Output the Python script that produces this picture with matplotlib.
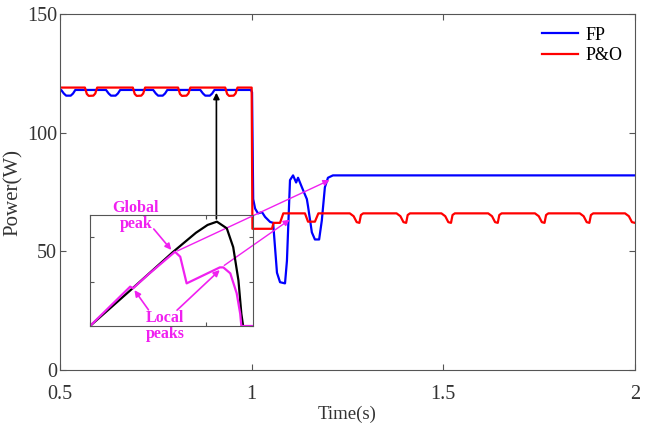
import matplotlib
matplotlib.use("Agg")
import matplotlib.pyplot as plt

plt.rcParams['font.family'] = ['Liberation Serif', 'DejaVu Serif']

# FP (blue) - vertices
t_fp = [0.500, 0.503, 0.510, 0.516, 0.528, 0.534, 0.540,
        0.620, 0.627, 0.633, 0.645, 0.651, 0.657,
        0.743, 0.750, 0.756, 0.768, 0.774, 0.780,
        0.866, 0.873, 0.879, 0.891, 0.897, 0.903,
        0.998, 1.001, 1.004, 1.009, 1.0165, 1.027, 1.035, 1.048, 1.056,
        1.066, 1.074, 1.087, 1.092, 1.100, 1.108, 1.116, 1.121, 1.131,
        1.144, 1.147, 1.157, 1.165, 1.176, 1.183, 1.191, 1.199, 1.212, 2.000]
p_fp = [118, 118, 116.5, 115.6, 115.6, 116.5, 118,
        118, 116.5, 115.6, 115.6, 116.5, 118,
        118, 116.5, 115.6, 115.6, 116.5, 118,
        118, 116.5, 115.6, 115.6, 116.5, 118,
        118, 117, 72, 68, 66, 66.5, 64.5, 62.4, 62,
        41, 37, 36.5, 46, 80, 82, 79, 81, 77,
        72, 69, 58, 55, 55, 63, 77, 81, 82, 82]

# P&O (red)
t_po = [0.500, 0.565, 0.570, 0.575, 0.587, 0.592, 0.597,
        0.690, 0.695, 0.700, 0.712, 0.717, 0.722,
        0.808, 0.813, 0.818, 0.830, 0.835, 0.840,
        0.931, 0.936, 0.941, 0.953, 0.958, 0.963,
        1.000, 1.002, 1.053, 1.057, 1.074, 1.0825, 1.139, 1.147, 1.165, 1.174,
        1.256, 1.266, 1.274, 1.281, 1.285, 1.291,
        1.378, 1.388, 1.396, 1.403, 1.407, 1.413,
        1.495, 1.505, 1.513, 1.520, 1.524, 1.530,
        1.617, 1.627, 1.635, 1.642, 1.646, 1.652,
        1.739, 1.749, 1.757, 1.764, 1.768, 1.774,
        1.856, 1.866, 1.874, 1.881, 1.885, 1.891,
        1.974, 1.984, 1.992, 2.000]
p_po = [119, 119, 116.3, 115.5, 115.6, 116.5, 119,
        119, 116.3, 115.5, 115.6, 116.5, 119,
        119, 116.3, 115.5, 115.6, 116.5, 119,
        119, 116.3, 115.5, 115.6, 116.5, 119,
        119, 59.5, 59.5, 62, 62, 66, 66, 62.5, 62.5, 66,
        66, 64.8, 62.3, 62, 65.3, 66,
        66, 64.8, 62.3, 62, 65.3, 66,
        66, 64.8, 62.3, 62, 65.3, 66,
        66, 64.8, 62.3, 62, 65.3, 66,
        66, 64.8, 62.3, 62, 65.3, 66,
        66, 64.8, 62.3, 62, 65.3, 66,
        66, 64.8, 62.3, 62]

# inset P-V curves (V, W)
v_uni = [0, 6.9, 14.3, 18.2, 20.2, 21.8, 23.5, 24.6, 25.5, 26.0, 26.3]
p_uni = [0, 40, 83.6, 105, 113.8, 117.5, 110, 88.8, 51.3, 13.8, 0]
v_psc = [0, 6.9, 7.4, 10, 14.6, 15.5, 16.6, 22.3, 22.9, 24.1, 25.2, 25.8, 26.0, 28]
p_psc = [0, 44.3, 42.5, 58, 83.6, 78, 48, 66, 66, 59.3, 36.8, 13.8, 0, 0]

mag = '#f020f0'
grey = '#555555'

fig = plt.figure(figsize=(6.5, 4.26), dpi=100)
ax = fig.add_axes([60/650, 56/426, 575/650, 356/426])

ax.plot(t_fp, p_fp, color='#0000ff', lw=1.6, label='FP')
ax.plot(t_po, p_po, color='#ff0000', lw=1.6, label='P&O')

ax.set_xlim(0.5, 2)
ax.set_ylim(0, 150)
ax.set_xticks([0.5, 1, 1.5, 2])
ax.set_xticklabels(['0.5', '1', '1.5', '2'])
ax.set_yticks([0, 50, 100, 150])
ax.tick_params(direction='in', top=True, right=True, length=4, labelsize=14.5,
               colors=grey, labelcolor='#333333')
ax.tick_params(axis='x', pad=11)
ax.tick_params(axis='y', pad=2)
for s in ax.spines.values():
    s.set_color(grey)
ax.set_xlabel('Time(s)', fontsize=13.5, color='#333333', labelpad=1)
ax.set_ylabel('Power(W)', fontsize=15, color='#333333', labelpad=3)

leg = ax.legend(loc='upper right', frameon=False, fontsize=13, handlelength=2.0,
                handletextpad=0.4, labelspacing=0.2, borderaxespad=0.3)

# annotations
ax.annotate('', xy=(0.908, 118), xytext=(0.908, 62.5),
            arrowprops=dict(arrowstyle='-|>', color='k', lw=1.2, mutation_scale=9))
ax.annotate('', xy=(1.2096, 80.5), xytext=(0.800, 49.7),
            arrowprops=dict(arrowstyle='-|>', color=mag, lw=1.0, mutation_scale=9))
ax.annotate('', xy=(1.105, 64.0), xytext=(0.9226, 43.4),
            arrowprops=dict(arrowstyle='-|>', color=mag, lw=1.0, mutation_scale=9))
ax.annotate('', xy=(0.795, 49.7), xytext=(0.740, 60.3),
            arrowprops=dict(arrowstyle='-|>', color=mag, lw=1.2, mutation_scale=9))
ax.annotate('', xy=(0.690, 34.6), xytext=(0.735, 24.4),
            arrowprops=dict(arrowstyle='-|>', color=mag, lw=1.2, mutation_scale=9))
ax.annotate('', xy=(0.922, 42.9), xytext=(0.800, 24.4),
            arrowprops=dict(arrowstyle='-|>', color=mag, lw=1.2, mutation_scale=9))
ax.text(0.698, 64.9, 'Global\npeak', color=mag, fontsize=11.5, fontweight='bold',
        ha='center', va='center', linespacing=1.0)
ax.text(0.774, 18.5, 'Local\npeaks', color=mag, fontsize=11.5, fontweight='bold',
        ha='center', va='center', linespacing=1.0)

# inset
ins = fig.add_axes([90/650, 100/426, 163/650, 111/426], facecolor='none')
ins.plot(v_uni, p_uni, color='k', lw=1.6)
ins.plot(v_psc, p_psc, color=mag, lw=1.6)
ins.set_xlim(0, 28)
ins.set_ylim(0, 125)
ins.set_xticks([0, 20])
ins.set_yticks([0, 50, 100])
ins.tick_params(direction='in', top=True, right=True, length=3, colors=grey,
                labelbottom=False, labelleft=False)
for s in ins.spines.values():
    s.set_color(grey)

fig.savefig('out.png', dpi=100)
